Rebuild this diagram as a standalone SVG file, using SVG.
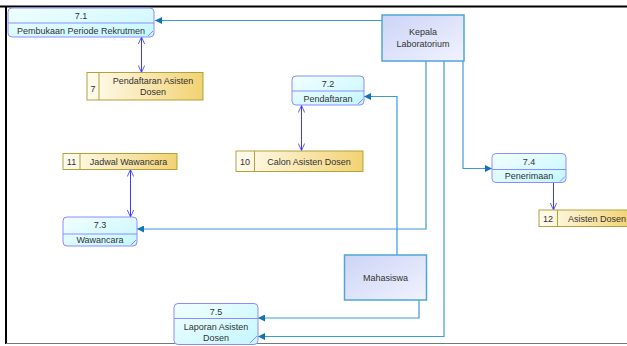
<svg xmlns="http://www.w3.org/2000/svg" width="627" height="346" viewBox="0 0 627 346">
<style>
text{font-family:"Liberation Sans",Arial,sans-serif;font-size:9px;fill:#333;text-anchor:middle}
.proc{fill:url(#gProc);stroke:#8c8cff;stroke-width:1}
.div{stroke:#8c8cff;stroke-width:1;fill:none}
.ent{fill:url(#gEnt);stroke:#4fa6d6;stroke-width:1.5}
.store{fill:url(#gStore);stroke:#b3a13c;stroke-width:1}
.flow{fill:none;stroke:#3d9bd3;stroke-width:1.2;marker-end:url(#fa)}
.df{fill:none;stroke:#3a3aff;stroke-width:1}
.dd{marker-start:url(#va);marker-end:url(#va)}
.de{marker-end:url(#va)}
</style>
<defs>
<linearGradient id="gProc" x1="0" y1="0" x2="1" y2="1">
<stop offset="0" stop-color="#f2ffff"/><stop offset="1" stop-color="#c4f6ff"/>
</linearGradient>
<linearGradient id="gEnt" x1="0" y1="0" x2="1" y2="1">
<stop offset="0" stop-color="#ccd4f6"/><stop offset="1" stop-color="#f2f3ff"/>
</linearGradient>
<linearGradient id="gStore" x1="0" y1="0" x2="1" y2="0">
<stop offset="0" stop-color="#fffdf2"/><stop offset="1" stop-color="#f2d272"/>
</linearGradient>
<marker id="fa" viewBox="0 0 10 10" refX="10" refY="5" markerWidth="9" markerHeight="7" markerUnits="userSpaceOnUse" orient="auto">
<path d="M0,0 L10,5 L0,10 z" fill="#1273b5"/>
</marker>
<marker id="va" viewBox="0 0 10 10" refX="10" refY="5" markerWidth="12" markerHeight="7" markerUnits="userSpaceOnUse" orient="auto-start-reverse">
<path d="M0,0.5 L10,5 L0,9.5" fill="none" stroke="#3a3aff" stroke-width="1.2"/>
</marker>
</defs>
<g id="frame">
<line x1="0" y1="6.5" x2="627" y2="6.5" stroke="#000" stroke-width="2.2"/>
<line x1="6" y1="6" x2="6" y2="344" stroke="#000" stroke-width="2"/>
<line x1="6" y1="343.5" x2="627" y2="343.5" stroke="#777" stroke-width="1.2"/>
</g>
<g id="connectors">
<polyline class="flow" points="382,20.5 155,20.5"/>
<polyline class="flow" points="426,61 426,229 137,229"/>
<polyline class="flow" points="444,61 444,336.5 258,336.5"/>
<polyline class="flow" points="463,61 463,168.5 492,168.5"/>
<polyline class="flow" points="397,255 397,96.5 364,96.5"/>
<polyline class="flow" points="419,300 419,318 258,318"/>
<line class="df dd" x1="141.5" y1="37" x2="141.5" y2="72.5"/>
<line class="df dd" x1="301.5" y1="105.5" x2="301.5" y2="150.5"/>
<line class="df dd" x1="130.5" y1="169.5" x2="130.5" y2="217"/>
<line class="df de" x1="553.5" y1="183" x2="553.5" y2="210"/>
</g>
<g id="p71">
<rect class="proc" x="8" y="8" width="146" height="29" rx="4"/>
<line class="div" x1="8" y1="23" x2="154" y2="23"/>
<line class="div" x1="148" y1="36" x2="153" y2="31"/>
<text x="81" y="18.5">7.1</text>
<text x="81" y="33.5">Pembukaan Periode Rekrutmen</text>
</g>
<g id="kepala">
<rect class="ent" x="382" y="15" width="82" height="46"/>
<text x="423" y="35">Kepala</text>
<text x="423" y="47">Laboratorium</text>
</g>
<g id="s7">
<rect class="store" x="87" y="72.5" width="116" height="27.5"/>
<line x1="99" y1="72.5" x2="99" y2="100" stroke="#b3a13c"/>
<text x="93" y="92">7</text>
<text x="153" y="84">Pendaftaran Asisten</text>
<text x="153" y="95">Dosen</text>
</g>
<g id="p72">
<rect class="proc" x="292" y="76" width="72" height="29" rx="4"/>
<line class="div" x1="292" y1="91" x2="364" y2="91"/>
<line class="div" x1="358" y1="104" x2="363" y2="99"/>
<text x="328" y="87">7.2</text>
<text x="328" y="102">Pendaftaran</text>
</g>
<g id="s11">
<rect class="store" x="63" y="153.5" width="114" height="16"/>
<line x1="80" y1="153.5" x2="80" y2="169.5" stroke="#b3a13c"/>
<text x="71.5" y="164.5">11</text>
<text x="128.5" y="164.5">Jadwal Wawancara</text>
</g>
<g id="s10">
<rect class="store" x="236" y="151" width="127" height="20.5"/>
<line x1="254.5" y1="151" x2="254.5" y2="171.5" stroke="#b3a13c"/>
<text x="245" y="164.5">10</text>
<text x="309" y="164.5">Calon Asisten Dosen</text>
</g>
<g id="p74">
<rect class="proc" x="492" y="153.5" width="74" height="29" rx="4"/>
<line class="div" x1="492" y1="169.5" x2="566" y2="169.5"/>
<line class="div" x1="560" y1="181.5" x2="565" y2="176.5"/>
<text x="529" y="164.5">7.4</text>
<text x="529" y="179">Penerimaan</text>
</g>
<g id="s12">
<rect class="store" x="539" y="210" width="92" height="16.5"/>
<line x1="557.5" y1="210" x2="557.5" y2="226.5" stroke="#b3a13c"/>
<text x="548" y="221.5">12</text>
<text x="568" y="221.5" style="text-anchor:start">Asisten Dosen</text>
</g>
<g id="p73">
<rect class="proc" x="63" y="217" width="74" height="29" rx="4"/>
<line class="div" x1="63" y1="234" x2="137" y2="234"/>
<line class="div" x1="131" y1="245" x2="136" y2="240"/>
<text x="100" y="227.5">7.3</text>
<text x="100" y="243">Wawancara</text>
</g>
<g id="mahasiswa">
<rect class="ent" x="344.5" y="255" width="82" height="45"/>
<text x="385.5" y="281">Mahasiswa</text>
</g>
<g id="p75">
<rect class="proc" x="174" y="303.5" width="84" height="41" rx="4"/>
<line class="div" x1="174" y1="318.5" x2="258" y2="318.5"/>
<line class="div" x1="250" y1="343" x2="257" y2="336"/>
<text x="216" y="314.5">7.5</text>
<text x="216" y="330">Laporan Asisten</text>
<text x="216" y="341">Dosen</text>
</g>
</svg>
